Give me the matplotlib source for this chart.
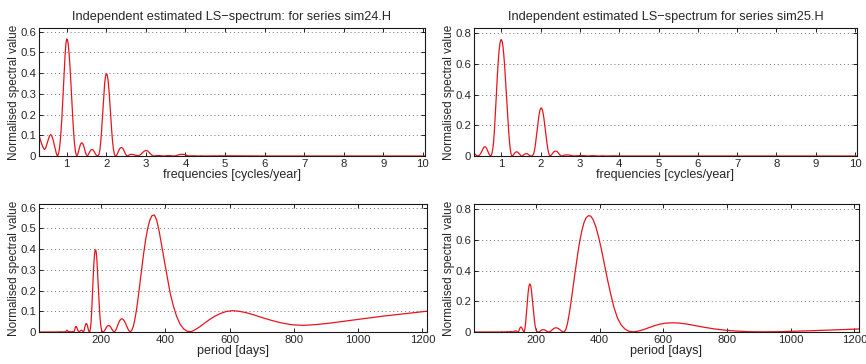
import numpy as np
import matplotlib
matplotlib.use("Agg")
import matplotlib.pyplot as plt
from matplotlib.ticker import FuncFormatter

plt.rcParams['font.family'] = ['Liberation Sans', 'DejaVu Sans']

# frequency grid of the spectrum (cycles/year)
freq = [
    0.30, 0.32, 0.34, 0.36, 0.38, 0.40, 0.42, 0.44, 0.46, 0.48,
    0.50, 0.52, 0.54, 0.56, 0.58, 0.60, 0.62, 0.64, 0.66, 0.68,
    0.70, 0.72, 0.74, 0.76, 0.78, 0.80, 0.82, 0.84, 0.86, 0.88,
    0.90, 0.92, 0.94, 0.96, 0.98, 1.00, 1.02, 1.04, 1.06, 1.08,
    1.10, 1.12, 1.14, 1.16, 1.18, 1.20, 1.22, 1.24, 1.26, 1.28,
    1.30, 1.32, 1.34, 1.36, 1.38, 1.40, 1.42, 1.44, 1.46, 1.48,
    1.50, 1.52, 1.54, 1.56, 1.58, 1.60, 1.62, 1.64, 1.66, 1.68,
    1.70, 1.72, 1.74, 1.76, 1.78, 1.80, 1.82, 1.84, 1.86, 1.88,
    1.90, 1.92, 1.94, 1.96, 1.98, 2.00, 2.02, 2.04, 2.06, 2.08,
    2.10, 2.12, 2.14, 2.16, 2.18, 2.20, 2.22, 2.24, 2.26, 2.28,
    2.30, 2.32, 2.34, 2.36, 2.38, 2.40, 2.42, 2.44, 2.46, 2.48,
    2.50, 2.52, 2.54, 2.56, 2.58, 2.60, 2.62, 2.64, 2.66, 2.68,
    2.70, 2.75, 2.80, 2.85, 2.90, 2.95, 3.00, 3.05, 3.10, 3.15,
    3.20, 3.25, 3.30, 3.35, 3.40, 3.45, 3.50, 3.55, 3.60, 3.65,
    3.70, 3.75, 3.80, 3.85, 3.90, 3.95, 4.00, 4.05, 4.10, 4.15,
    4.20, 4.25, 4.30, 4.35, 4.40, 4.45,
    5.0, 6.0, 8.0, 10.0, 20.0, 40.0, 60.0,
]

# normalised LS spectrum, series sim24.H
spec_sim24 = [
    0.101, 0.088, 0.076, 0.064, 0.053, 0.043, 0.036, 0.032, 0.035, 0.044,
    0.056, 0.069, 0.082, 0.093, 0.100, 0.103, 0.099, 0.089, 0.076, 0.060,
    0.043, 0.026, 0.012, 0.002, 0.003, 0.015, 0.038, 0.075, 0.125, 0.185,
    0.262, 0.340, 0.415, 0.485, 0.540, 0.565, 0.562, 0.540, 0.500, 0.445,
    0.380, 0.305, 0.232, 0.165, 0.105, 0.058, 0.025, 0.007, 0.001, 0.008,
    0.022, 0.038, 0.051, 0.060, 0.064, 0.062, 0.054, 0.042, 0.028, 0.014,
    0.005, 0.001, 0.004, 0.011, 0.019, 0.026, 0.030, 0.031, 0.030, 0.026,
    0.019, 0.012, 0.006, 0.002, 0.001, 0.002, 0.010, 0.030, 0.065, 0.115,
    0.175, 0.240, 0.300, 0.350, 0.383, 0.397, 0.395, 0.375, 0.340, 0.290,
    0.232, 0.172, 0.116, 0.070, 0.036, 0.014, 0.003, 0.001, 0.003, 0.010,
    0.019, 0.028, 0.035, 0.039, 0.041, 0.040, 0.036, 0.029, 0.020, 0.012,
    0.005, 0.001, 0.001, 0.003, 0.005, 0.007, 0.008, 0.008, 0.008, 0.007,
    0.006, 0.004, 0.001, 0.004, 0.013, 0.022, 0.027, 0.024, 0.014, 0.004,
    0.000, 0.001, 0.002, 0.002, 0.001, 0.000, 0.001, 0.002, 0.002, 0.001,
    0.000, 0.001, 0.004, 0.007, 0.008, 0.008, 0.006, 0.002, 0.000, 0.001,
    0.001, 0.001, 0.000, 0.000, 0.001, 0.000,
    0.001, 0.000, 0.000, 0.000, 0.000, 0.000, 0.000,
]

# normalised LS spectrum, series sim25.H
spec_sim25 = [
    0.020, 0.014, 0.009, 0.005, 0.002, 0.001, 0.002, 0.006, 0.012, 0.020,
    0.030, 0.041, 0.051, 0.058, 0.060, 0.058, 0.051, 0.040, 0.027, 0.015,
    0.006, 0.001, 0.004, 0.018, 0.045, 0.090, 0.160, 0.250, 0.345, 0.445,
    0.540, 0.620, 0.685, 0.730, 0.755, 0.758, 0.745, 0.712, 0.660, 0.595,
    0.515, 0.430, 0.345, 0.260, 0.180, 0.110, 0.055, 0.018, 0.002, 0.001,
    0.006, 0.013, 0.020, 0.025, 0.027, 0.027, 0.024, 0.018, 0.011, 0.005,
    0.001, 0.000, 0.002, 0.006, 0.010, 0.013, 0.015, 0.015, 0.014, 0.011,
    0.007, 0.003, 0.001, 0.000, 0.001, 0.005, 0.015, 0.035, 0.065, 0.105,
    0.148, 0.192, 0.235, 0.272, 0.298, 0.311, 0.313, 0.302, 0.280, 0.248,
    0.208, 0.165, 0.122, 0.082, 0.048, 0.022, 0.007, 0.001, 0.003, 0.009,
    0.016, 0.023, 0.028, 0.031, 0.032, 0.031, 0.028, 0.022, 0.015, 0.009,
    0.004, 0.001, 0.000, 0.001, 0.003, 0.005, 0.006, 0.007, 0.007, 0.007,
    0.007, 0.005, 0.002, 0.000, 0.001, 0.002, 0.003, 0.003, 0.002, 0.001,
    0.000, 0.001, 0.002, 0.002, 0.001, 0.000, 0.000, 0.001, 0.001, 0.000,
    0.000, 0.000, 0.001, 0.001, 0.001, 0.001, 0.000, 0.000, 0.000, 0.000,
    0.000, 0.000, 0.000, 0.000, 0.000, 0.000,
    0.000, 0.000, 0.000, 0.000, 0.000, 0.000, 0.000,
]

titles = ["Independent estimated LS\u2212spectrum: for series sim24.H",
          "Independent estimated LS\u2212spectrum for series sim25.H"]
freq_ticks = [1, 2, 3, 4, 5, 6, 7, 8, 9, 10]
period_ticks = [200, 400, 600, 800, 1000, 1200]
yticks = [[0, 0.1, 0.2, 0.3, 0.4, 0.5, 0.6], [0, 0.2, 0.4, 0.6, 0.8]]
ylims = [0.618, 0.834]

DAYS_PER_YEAR = 365.25
TXT = '#262626'
LINE = '#e8141c'


def style_axes(ax, ymax, ticks):
    ax.set_ylim(0, ymax)
    ax.set_yticks(ticks)
    ax.yaxis.set_major_formatter(FuncFormatter(lambda v, p: '%g' % v))
    ax.tick_params(direction='in', top=True, right=True, length=3, width=0.6,
                   labelsize=8.2, colors='black', labelcolor=TXT, pad=2)
    ax.grid(axis='y', linestyle=(0, (1, 3)), color='0.45', linewidth=0.7)
    for s in ax.spines.values():
        s.set_linewidth(0.8)
        s.set_color('0.1')
    ax.set_ylabel("Normalised spectral value", fontsize=8.5, color=TXT, labelpad=0)


fig = plt.figure(figsize=(8.66, 3.64), dpi=100)
lefts = [0.045, 0.5473]
widths = [0.4457, 0.4423]
height = 0.3516

f = np.array(freq)
for i, spec in enumerate([spec_sim24, spec_sim25]):
    s = np.array(spec)

    # spectrum against frequency
    ax = fig.add_axes([lefts[i], 0.5714, widths[i], height])
    ax.plot(f, s, color=LINE, linewidth=0.9)
    ax.set_xlim(0.301, 10.05)
    ax.set_xticks(freq_ticks)
    style_axes(ax, ylims[i], yticks[i])
    ax.set_xlabel("frequencies [cycles/year]", fontsize=9, color=TXT, labelpad=0)
    ax.set_title(titles[i], fontsize=9.2, color=TXT, pad=6)

    # same spectrum against period
    ax2 = fig.add_axes([lefts[i], 0.0879, widths[i] + 0.002, height])
    ax2.plot(DAYS_PER_YEAR / f, s, color=LINE, linewidth=0.9)
    ax2.set_xlim(6, DAYS_PER_YEAR / 0.301)
    ax2.set_xticks(period_ticks)
    style_axes(ax2, ylims[i], yticks[i])
    ax2.set_xlabel("period [days]", fontsize=9, color=TXT, labelpad=0)

fig.savefig("out.png", dpi=100)
